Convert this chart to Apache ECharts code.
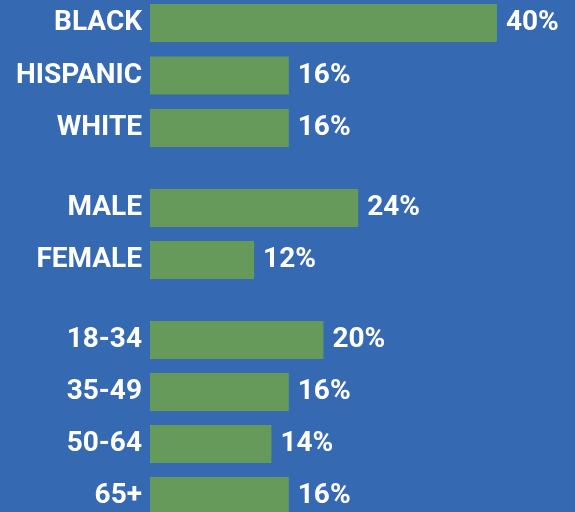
<!DOCTYPE html>
<html>
<head>
<meta charset="utf-8">
<script src="https://cdn.jsdelivr.net/npm/echarts@6/dist/echarts.min.js"></script>
<style>
html,body{margin:0;padding:0;background:#356ab3;}
#chart{width:575px;height:512px;}
</style>
</head>
<body>
<div id="chart"></div>
<script>
const raceCats = ['BLACK', 'HISPANIC', 'WHITE'];
const raceVals = [40, 16, 16];
const genderCats = ['MALE', 'FEMALE'];
const genderVals = [24, 12];
const ageCats = ['18-34', '35-49', '50-64', '65+'];
const ageVals = [20, 16, 14, 16];

const groups = [
  { cats: raceCats, vals: raceVals, box: { top: 23, height: 105 } },
  { cats: genderCats, vals: genderVals, box: { top: 208, height: 52 } },
  { cats: ageCats, vals: ageVals, box: { top: 340, height: 156 } }
];

const font = 'Roboto, "DejaVu Sans", sans-serif';
const chart = echarts.init(document.getElementById('chart'), null, { renderer: 'canvas' });
const option = {
  backgroundColor: '#356ab3',
  animation: false,
  grid: groups.map(g => Object.assign({ left: 150, right: 0, containLabel: false }, g.box)),
  xAxis: groups.map((g, i) => ({
    type: 'value', gridIndex: i, min: 0, max: 49, show: false
  })),
  yAxis: groups.map((g, i) => ({
    type: 'category', gridIndex: i, data: g.cats, inverse: true, boundaryGap: false,
    axisLine: { show: false }, axisTick: { show: false }, splitLine: { show: false },
    axisLabel: { color: '#ffffff', fontFamily: font, fontWeight: 'bold', fontSize: 28, margin: 8 }
  })),
  series: groups.map((g, i) => ({
    type: 'bar', xAxisIndex: i, yAxisIndex: i, data: g.vals, barWidth: 38, clip: false,
    itemStyle: { color: '#659a5b' },
    label: {
      show: true, position: 'right', distance: 9, formatter: '{c}%',
      color: '#ffffff', fontFamily: font, fontWeight: 'bold', fontSize: 28
    }
  }))
};
chart.setOption(option);
</script>
</body>
</html>
